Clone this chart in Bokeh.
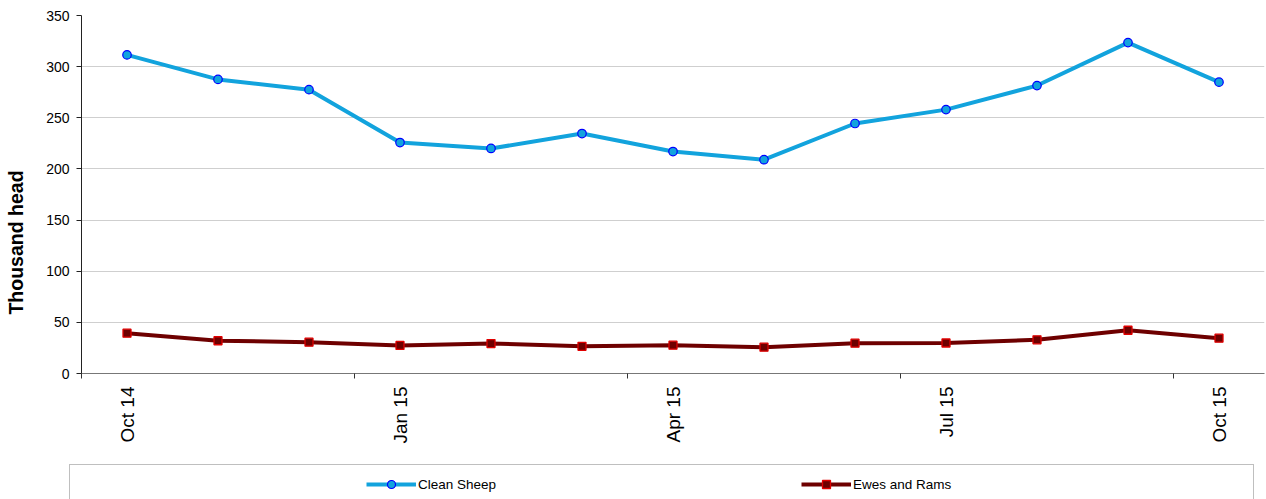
import math

from bokeh.plotting import figure
from bokeh.layouts import row
from bokeh.models import (ColumnDataSource, FixedTicker, Legend, LegendItem,
                          Label, Range1d, CustomJSTickFormatter)
from bokeh.embed import file_html
from bokeh.resources import INLINE

# Monthly slaughterings, thousand head
months = ["Oct 14", "Nov 14", "Dec 14", "Jan 15", "Feb 15", "Mar 15", "Apr 15",
          "May 15", "Jun 15", "Jul 15", "Aug 15", "Sep 15", "Oct 15"]
clean_sheep = [311.5, 287.5, 277.5, 225.8, 220.0, 234.6, 217.0,
               209.0, 244.4, 258.0, 281.5, 323.5, 284.8]
ewes_and_rams = [39.4, 32.0, 30.6, 27.4, 29.3, 26.6, 27.7,
                 25.7, 29.6, 29.8, 32.9, 42.3, 34.5]
y_ticks = [0, 50, 100, 150, 200, 250, 300, 350]
label_positions = [0, 3, 6, 9, 12]
boundary_positions = [-0.5, 2.5, 5.5, 8.5, 11.5]

FONT = "Liberation Sans"
CLEAN_LINE = "#12a3dd"
CLEAN_EDGE = "#0000ff"
EWES_LINE = "#6e0000"
EWES_EDGE = "#e00000"

TOP, BOTTOM = 15, 87      # space above / below the plotting frame
TITLE_W = 30              # strip holding the y axis title

source = ColumnDataSource(dict(
    x=list(range(len(months))),
    month=months,
    clean=clean_sheep,
    ewes=ewes_and_rams,
))


def draw_series(fig):
    """Draw both series on a figure and return (clean renderers, ewes renderers)."""
    a = fig.line("x", "clean", source=source, line_color=CLEAN_LINE, line_width=4)
    b = fig.scatter("x", "clean", source=source, marker="circle", size=8.5,
                    fill_color=CLEAN_LINE, line_color=CLEAN_EDGE, line_width=1.2)
    c = fig.line("x", "ewes", source=source, line_color=EWES_LINE, line_width=4)
    d = fig.scatter("x", "ewes", source=source, marker="square", size=8,
                    fill_color=EWES_LINE, line_color=EWES_EDGE, line_width=1.3)
    return [a, b], [c, d]


def bare(fig):
    fig.grid.visible = False
    fig.outline_line_color = None
    fig.background_fill_color = "white"
    fig.border_fill_color = "white"


# ---- main chart -------------------------------------------------------------
p = figure(width=1266 - TITLE_W, height=460, output_backend="svg",
           toolbar_location=None,
           x_range=Range1d(-0.5, len(months) - 0.5), y_range=Range1d(0, 350),
           min_border_left=81 - TITLE_W, min_border_right=2,
           min_border_top=TOP, min_border_bottom=BOTTOM)
p.outline_line_color = None
p.background_fill_color = "white"
p.border_fill_color = "white"

p.xgrid.grid_line_color = None
p.ygrid.grid_line_color = "#cfcfcf"
p.ygrid.grid_line_width = 1

p.yaxis.ticker = FixedTicker(ticks=y_ticks)
p.yaxis.axis_line_color = "#222222"
p.yaxis.major_tick_line_color = "#222222"
p.yaxis.major_tick_out = 5
p.yaxis.major_tick_in = 0
p.yaxis.minor_tick_line_color = None
p.yaxis.major_label_standoff = 7
p.yaxis.major_label_text_font = FONT
p.yaxis.major_label_text_font_size = "14px"
p.yaxis.major_label_text_color = "black"

# labels every quarter, tick marks on month boundaries
p.xaxis.ticker = FixedTicker(ticks=label_positions, minor_ticks=boundary_positions)
p.xaxis.formatter = CustomJSTickFormatter(args=dict(labels=months),
                                          code="return labels[Math.round(tick)] || ''")
p.xaxis.axis_line_color = "#777777"
p.xaxis.major_tick_line_color = None
p.xaxis.major_tick_out = 5
p.xaxis.major_tick_in = 0
p.xaxis.minor_tick_line_color = "#333333"
p.xaxis.minor_tick_out = 5
p.xaxis.minor_tick_in = 0
p.xaxis.major_label_orientation = math.pi / 2
p.xaxis.major_label_standoff = 8
p.xaxis.major_label_text_font = FONT
p.xaxis.major_label_text_font_size = "19px"
p.xaxis.major_label_text_color = "black"

draw_series(p)

# ---- y axis title strip -----------------------------------------------------
t = figure(width=TITLE_W, height=460, output_backend="svg", toolbar_location=None,
           x_range=Range1d(0, 1), y_range=Range1d(0, 1),
           x_axis_location=None, y_axis_location=None,
           min_border_left=0, min_border_right=0,
           min_border_top=TOP, min_border_bottom=BOTTOM)
bare(t)
t.add_layout(Label(x=15, y=131, x_units="screen", y_units="screen",
                   text="Thousand head", angle=math.pi / 2,
                   text_align="center", text_baseline="middle",
                   text_font=FONT, text_font_size="19.5px",
                   text_font_style="bold", text_color="black"))

# ---- legend strip -----------------------------------------------------------
# its y range sits below the data, so the series renderers only supply swatches
lg = figure(width=1266, height=39, output_backend="svg", toolbar_location=None,
            x_range=Range1d(0, 1266), y_range=Range1d(-100, -61),
            x_axis_location=None, y_axis_location=None,
            min_border=0, min_border_left=0, min_border_right=0,
            min_border_top=0, min_border_bottom=0)
bare(lg)

clean_r, ewes_r = draw_series(lg)
blank = lg.line("x", "clean", source=source, line_alpha=0)

frame_legend = Legend(items=[LegendItem(label=" ", renderers=[blank])],
                      location=(69, -3), padding=8, margin=0,
                      glyph_width=50, glyph_height=20, label_width=1117,
                      label_standoff=0, border_line_color="#808080",
                      border_line_width=1, background_fill_color="white",
                      background_fill_alpha=1, label_text_font_size="13px")
lg.add_layout(frame_legend, "center")

legend = Legend(items=[LegendItem(label="Clean Sheep", renderers=clean_r),
                       LegendItem(label="Ewes and Rams", renderers=ewes_r)],
                orientation="horizontal", location=(366, 5), padding=0,
                margin=0, spacing=283, glyph_width=50, glyph_height=20,
                label_standoff=2, label_width=100, border_line_color=None,
                background_fill_alpha=0, label_text_font=FONT,
                label_text_font_size="13.5px", label_text_color="black")
lg.add_layout(legend, "center")

open("out.html", "w").write(file_html([row(t, p, spacing=0), lg], INLINE))
